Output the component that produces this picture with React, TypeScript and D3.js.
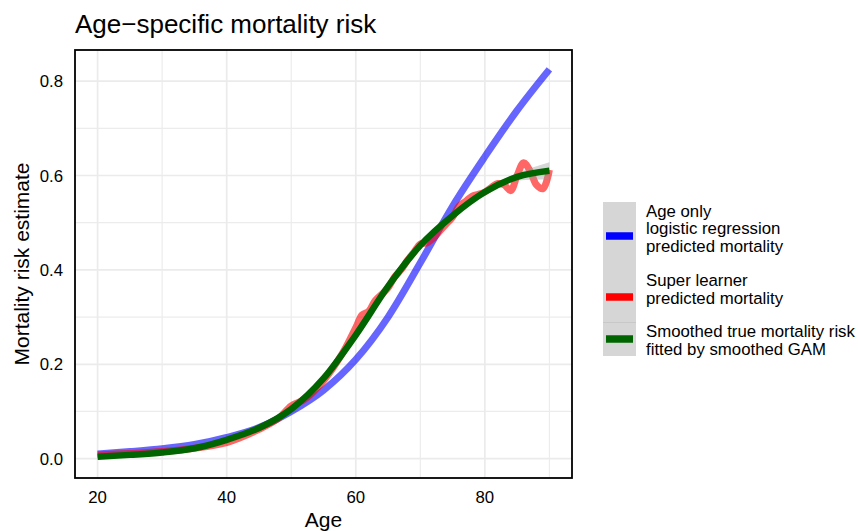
import React, { useEffect, useRef } from 'react';
import * as d3 from 'd3';

const ages = [20, 25, 30, 35, 40, 45, 50, 55, 60, 65, 70, 75, 80, 85, 90];
const logisticRisk = [0.01, 0.015, 0.021, 0.03, 0.045, 0.066, 0.1, 0.145, 0.21, 0.3, 0.415, 0.535, 0.64, 0.738, 0.825];
const gamRisk = [0.004, 0.008, 0.013, 0.022, 0.04, 0.065, 0.105, 0.17, 0.262, 0.365, 0.452, 0.515, 0.565, 0.597, 0.61];
const gamSe = [0.003, 0.003, 0.003, 0.003, 0.003, 0.003, 0.004, 0.004, 0.004, 0.004, 0.004, 0.004, 0.005, 0.008, 0.018];

const slAges = [20, 25, 30, 35, 40, 42, 45, 48, 50, 52, 55, 58, 60, 61, 62, 63, 64, 65, 66, 67, 68, 69, 70, 71, 72, 73, 74, 75, 76, 77, 78, 79, 80, 81, 82, 83, 84, 85, 86, 87, 88, 89, 90];
const slRisk = [0.008, 0.011, 0.015, 0.022, 0.034, 0.044, 0.062, 0.085, 0.112, 0.125, 0.165, 0.225, 0.278, 0.305, 0.312, 0.335, 0.348, 0.362, 0.385, 0.4, 0.42, 0.437, 0.455, 0.457, 0.467, 0.482, 0.497, 0.512, 0.535, 0.545, 0.556, 0.56, 0.565, 0.575, 0.583, 0.58, 0.568, 0.6, 0.627, 0.61, 0.58, 0.572, 0.612];

const xMajor = [20, 40, 60, 80];
const xMinor = [30, 50, 70, 90];
const yMajor = [0, 0.2, 0.4, 0.6, 0.8];
const yMinor = [0.1, 0.3, 0.5, 0.7];

const legendItems = [
    { color: 'blue', lines: ['Age only', 'logistic regression', 'predicted mortality'] },
    { color: 'red', lines: ['Super learner', 'predicted mortality'] },
    { color: '#006400', lines: ['Smoothed true mortality risk', 'fitted by smoothed GAM'] },
];

const font = '"Liberation Sans", Arial, Helvetica, sans-serif';

const App = () => {
    const ref = useRef<SVGSVGElement>(null);

    useEffect(() => {
        const svg = d3.select(ref.current);
        svg.selectAll('*').remove();

        const left = 75, right = 572, top = 50, bottom = 478;
        const x = d3.scaleLinear().domain([16.5, 93.5]).range([left, right]);
        const y = d3.scaleLinear().domain([-0.041, 0.866]).range([bottom, top]);

        svg.append('rect')
            .attr('x', 0).attr('y', 0).attr('width', 858).attr('height', 531)
            .attr('fill', 'white');

        // grid
        const grid = svg.append('g');
        grid.selectAll('.vmin').data(xMinor).join('line')
            .attr('x1', d => x(d)).attr('x2', d => x(d))
            .attr('y1', top).attr('y2', bottom)
            .attr('stroke', '#ececec').attr('stroke-width', 1.2);
        grid.selectAll('.hmin').data(yMinor).join('line')
            .attr('x1', left).attr('x2', right)
            .attr('y1', d => y(d)).attr('y2', d => y(d))
            .attr('stroke', '#ececec').attr('stroke-width', 1.2);
        const gridMaj = svg.append('g');
        gridMaj.selectAll('.vmaj').data(xMajor).join('line')
            .attr('x1', d => x(d)).attr('x2', d => x(d))
            .attr('y1', top).attr('y2', bottom)
            .attr('stroke', '#ebebeb').attr('stroke-width', 1.7);
        const gridMajH = svg.append('g');
        gridMajH.selectAll('line').data(yMajor).join('line')
            .attr('x1', left).attr('x2', right)
            .attr('y1', d => y(d)).attr('y2', d => y(d))
            .attr('stroke', '#ebebeb').attr('stroke-width', 1.7);

        const plot = svg.append('g');

        // logistic regression
        const line = d3.line<[number, number]>()
            .x(d => x(d[0])).y(d => y(d[1]))
            .curve(d3.curveMonotoneX);
        plot.append('path')
            .datum(ages.map((a, i) => [a, logisticRisk[i]] as [number, number]))
            .attr('d', line)
            .attr('fill', 'none').attr('stroke', 'blue')
            .attr('stroke-opacity', 0.6).attr('stroke-width', 7);

        // super learner
        const wiggly = d3.line<[number, number]>()
            .x(d => x(d[0])).y(d => y(d[1]))
            .curve(d3.curveCatmullRom.alpha(0.5));
        plot.append('path')
            .datum(slAges.map((a, i) => [a, slRisk[i]] as [number, number]))
            .attr('d', wiggly)
            .attr('fill', 'none').attr('stroke', 'red')
            .attr('stroke-opacity', 0.6).attr('stroke-width', 7)
            .attr('stroke-linejoin', 'round');

        // GAM ribbon + line
        const band = d3.area<number>()
            .x(d => x(d))
            .y0((d, i) => y(gamRisk[i] - gamSe[i]))
            .y1((d, i) => y(gamRisk[i] + gamSe[i]))
            .curve(d3.curveMonotoneX);
        plot.append('path')
            .datum(ages)
            .attr('d', band)
            .attr('fill', '#999999').attr('fill-opacity', 0.4);
        plot.append('path')
            .datum(ages.map((a, i) => [a, gamRisk[i]] as [number, number]))
            .attr('d', line)
            .attr('fill', 'none').attr('stroke', '#006400')
            .attr('stroke-width', 6.5);

        // panel border
        svg.append('rect')
            .attr('x', left).attr('y', top)
            .attr('width', right - left).attr('height', bottom - top)
            .attr('fill', 'none').attr('stroke', 'black').attr('stroke-width', 1.8);

        // tick labels
        svg.append('g').selectAll('text').data(xMajor).join('text')
            .attr('x', d => x(d)).attr('y', 503)
            .attr('text-anchor', 'middle')
            .style('font-family', font).style('font-size', '16.8px')
            .attr('fill', 'black')
            .text(d => d);
        svg.append('g').selectAll('text').data(yMajor).join('text')
            .attr('x', 63).attr('y', d => y(d) + 6)
            .attr('text-anchor', 'end')
            .style('font-family', font).style('font-size', '16.8px')
            .attr('fill', 'black')
            .text(d => d3.format('.1f')(d));

        // titles
        svg.append('text')
            .attr('x', left).attr('y', 32.5)
            .style('font-family', font).style('font-size', '26px')
            .text('Age\u2212specific mortality risk');
        svg.append('text')
            .attr('x', (left + right) / 2).attr('y', 526.5)
            .attr('text-anchor', 'middle')
            .style('font-family', font).style('font-size', '21px')
            .text('Age');
        svg.append('text')
            .attr('transform', `translate(29, ${(top + bottom) / 2}) rotate(-90)`)
            .attr('text-anchor', 'middle')
            .style('font-family', font).style('font-size', '21px')
            .text('Mortality risk estimate');

        // legend
        const lg = svg.append('g');
        lg.append('rect')
            .attr('x', 603).attr('y', 202).attr('width', 33).attr('height', 154)
            .attr('fill', '#d6d6d6');
        lg.append('line')
            .attr('x1', 603).attr('x2', 636).attr('y1', 322.5).attr('y2', 322.5)
            .attr('stroke', '#c4c4c4').attr('stroke-width', 0.8);
        const keyY = [236, 297, 339];
        const textY = [216.5, 286, 337];
        legendItems.forEach((item, i) => {
            lg.append('line')
                .attr('x1', 606).attr('x2', 633)
                .attr('y1', keyY[i]).attr('y2', keyY[i])
                .attr('stroke', item.color).attr('stroke-width', 7.5);
            item.lines.forEach((t, j) => {
                lg.append('text')
                    .attr('x', 646).attr('y', textY[i] + j * 17.5)
                    .style('font-family', font).style('font-size', '16.8px')
                    .text(t);
            });
        });
    }, []);

    return (
        <svg ref={ref} width={858} height={531}
            style={{ position: 'absolute', left: 0, top: 0 }}></svg>
    );
};

export default App;
